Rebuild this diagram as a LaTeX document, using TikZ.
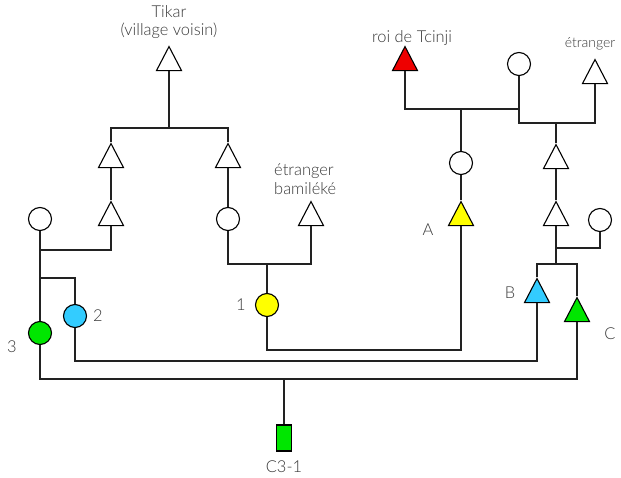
\documentclass[tikz,border=0pt]{standalone}
\usepackage{fontspec}
\setmainfont{Lato}[UprightFont=* Light]
\usetikzlibrary{shapes.geometric}
\definecolor{txt}{HTML}{383838}
\definecolor{ln}{HTML}{222222}
\definecolor{cred}{HTML}{EE0000}
\definecolor{cyel}{HTML}{FFFF00}
\definecolor{ccya}{HTML}{33CCFF}
\definecolor{cgre}{HTML}{00E600}
\tikzset{
  tri/.style={draw=black, line width=1.1bp, isosceles triangle, isosceles triangle stretches,
    shape border rotate=90, minimum width=25bp, minimum height=24bp, inner sep=0pt, fill=white},
  circ/.style={draw=black, line width=1.1bp, circle, minimum size=23bp, inner sep=0pt, fill=white},
  kid/.style={draw=black, line width=1.1bp, rectangle, minimum width=15bp, minimum height=26bp, inner sep=0pt},
  lbl/.style={text=txt, font=\fontsize{16.5}{18.5}\selectfont, inner sep=0pt},
  slbl/.style={text=txt, font=\fontsize{14}{16}\selectfont, inner sep=0pt},
  link/.style={draw=ln, line width=1.1bp}
}
\begin{document}
\begin{tikzpicture}[x=1bp,y=-1bp]
\useasboundingbox (0,0) rectangle (621,478);
% individuals
\node[tri] (tikar) at (169,63) {};
\node[tri] (tL1) at (111,160) {};
\node[tri] (tR1) at (228,160) {};
\node[tri] (tL2) at (111,218) {};
\node[circ] (cLeft) at (40,219) {};
\node[circ] (cMid) at (228,219) {};
\node[tri] (tEB) at (311,218) {};
\node[tri, fill=cred] (roi) at (405,63) {};
\node[circ] (cTop) at (519,64) {};
\node[tri] (etr) at (595,76) {};
\node[circ] (cA) at (461,163) {};
\node[tri, fill=cyel] (A) at (461,218) {};
\node[tri] (tR2) at (556,161) {};
\node[tri] (tR3) at (556,218) {};
\node[circ] (cR) at (600,220) {};
\node[tri, fill=ccya] (B) at (537,295) {};
\node[tri, fill=cgre] (C) at (577,314) {};
\node[circ, fill=cyel] (c1) at (267,305) {};
\node[circ, fill=ccya] (c2) at (75,316) {};
\node[circ, fill=cgre] (c3) at (40,333) {};
\node[kid, fill=cgre] (child) at (284,438) {};
% junctions
\coordinate (j1) at (169,128);
\coordinate (m1) at (40,250);
\coordinate (s1) at (40,278);
\coordinate (m2) at (267,264);
\coordinate (m3) at (461,109);
\coordinate (m4) at (556,123);
\coordinate (m5) at (556,248);
\coordinate (s2) at (556,264);
\coordinate (m6) at (461,350);
\coordinate (m7) at (537,361);
\coordinate (m8) at (577,379);
\coordinate (m9) at (284,379);
% connectors
\draw[link] (tikar.lower side) -- (j1);
\draw[link] (tL1.apex) |- (j1) -| (tR1.apex);
\draw[link] (tL1.lower side) -- (tL2.apex);
\draw[link] (tR1.lower side) -- (cMid.north);
\draw[link] (cLeft.south) -- (c3.north);
\draw[link] (tL2.lower side) |- (m1);
\draw[link] (s1) -| (c2.north);
\draw[link] (cMid.south) |- (m2) -| (tEB.lower side);
\draw[link] (m2) -- (c1.north);
\draw[link] (roi.lower side) |- (m3) -| (cTop.south);
\draw[link] (cTop.south) |- (m4) -| (etr.lower side);
\draw[link] (m3) -- (cA.north);
\draw[link] (cA.south) -- (A.apex);
\draw[link] (m4) -- (tR2.apex);
\draw[link] (tR2.lower side) -- (tR3.apex);
\draw[link] (tR3.lower side) -- (m5) -| (cR.south);
\draw[link] (m5) -- (s2);
\draw[link] (B.apex) |- (s2) -| (C.apex);
\draw[link] (c1.south) |- (m6) -- (A.lower side);
\draw[link] (c2.south) |- (m7) -- (B.lower side);
\draw[link] (c3.south) |- (m8) -- (C.lower side);
\draw[link] (m9) -- (child.north);
% labels
\node[lbl, align=center] (ltikar) at (169,22) {Tikar\\(village voisin)};
\node[lbl] (lroi) at (412,38) {roi de Tcinji};
\node[slbl] (letr) at (590,44) {étranger};
\node[lbl, align=left, anchor=west] (leb) at (274,179) {étranger\\bamiléké};
\node[lbl] (lA) at (428,230) {A};
\node[lbl] (lB) at (510,293) {B};
\node[lbl] (lC) at (610,334) {C};
\node[lbl] (l1) at (241,305) {1};
\node[lbl] (l2) at (98,316) {2};
\node[lbl] (l3) at (12,347) {3};
\node[lbl] (lchild) at (284,467) {C3-1};
\end{tikzpicture}
\end{document}
